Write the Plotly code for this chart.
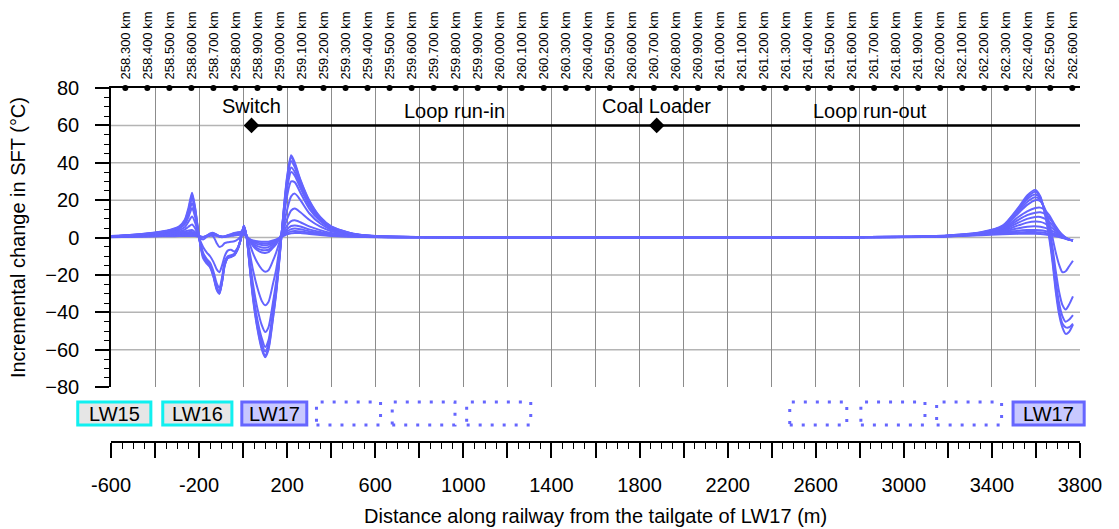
import plotly.graph_objects as go

FONT = "Liberation Sans, Arial, sans-serif"
CURVE_COLOR = "rgb(100,100,255)"

# ---------------- data ----------------
X_MIN, X_MAX = -600, 3800

X_LEFT = [-600, -500, -400, -330, -290, -265, -248, -232, -218, -200,
          -182, -165, -150, -135, -120, -108, -96, -84, -70, -55,
          -40, -25, -12, 3, 15, 30, 45, 65, 85, 100,
          115, 135, 150, 167, 185, 200, 218, 235, 260, 300,
          350, 400, 500, 600]
X_RIGHT = [800, 1200, 1800, 2400, 3000, 3200, 3350, 3450, 3520, 3560, 3597,
           3620, 3642, 3660, 3675, 3690, 3705, 3720, 3735, 3750, 3768]

S00_L = [0.2, 0.4, 0.6, 0.7, 0.8, 0.8, 0.8, 0.8, 0.8, 0.5,
         0.3, 0.6, 1, 1.1, 0.9, 0.6, 0.4, 0.4, 0.6, 0.9,
         1.1, 1.3, 1.5, 1.5, 0.3, -0.8, -1.5, -2, -2.2, -2.3,
         -2.2, -1.6, -1, 0, 0.9, 1.7, 2.3, 2.5, 2.4, 1.9,
         1.4, 0.9, 0.4, 0.2]
S00_R = [0.1, 0.1, 0, 0, 0.2, 0.6, 1.3, 1.8, 2, 2, 2, 1.9, 1.7, 1.4, 1.1, 0.7, 0.3, -0.2, -0.7, -1.2, -1.6]

S01_L = [0.3, 0.5, 0.8, 1, 1.1, 1.2, 1.2, 1.2, 1.1, 0.6,
         0.3, 0.7, 1.2, 1.4, 1.1, 0.7, 0.5, 0.5, 0.8, 1.1,
         1.4, 1.7, 1.9, 2, 0.5, -1, -2, -2.7, -3.1, -3.2,
         -3, -2.2, -1.3, 0, 1.3, 2.4, 3.3, 3.5, 3.3, 2.6,
         1.8, 1.2, 0.6, 0.3]
S01_R = [0.2, 0.1, 0, 0, 0.3, 0.7, 1.5, 2.3, 2.8, 3, 3, 2.8, 2.5, 2.1, 1.7, 1.2, 0.6, 0, -0.6, -1.1, -1.6]

S02_L = [0.3, 0.6, 1, 1.3, 1.5, 1.6, 1.6, 1.6, 1.4, 0.7,
         0.3, 0.8, 1.4, 1.7, 1.2, 0.8, 0.5, 0.6, 0.9, 1.3,
         1.7, 2, 2.2, 2.5, 0.6, -1.2, -2.5, -3.5, -4, -4.1,
         -3.9, -2.8, -1.7, 0, 1.8, 3.3, 4.5, 4.8, 4.4, 3.4,
         2.3, 1.5, 0.7, 0.3]
S02_R = [0.2, 0.1, 0, 0, 0.3, 0.7, 1.7, 2.8, 3.7, 4, 4.1, 3.9, 3.5, 3, 2.4, 1.7, 1, 0.3, -0.5, -1.1, -1.6]

S03_L = [0.4, 0.7, 1.2, 1.6, 1.9, 2.1, 2.2, 2.2, 1.8, 0.8,
         0.3, 0.9, 1.7, 2, 1.4, 0.8, 0.5, 0.6, 1, 1.5,
         2, 2.3, 2.5, 3, 0.8, -1.5, -3.2, -4.6, -5.3, -5.4,
         -5.1, -3.6, -2.2, 0, 2.5, 4.6, 6.2, 6.5, 5.9, 4.4,
         3, 1.9, 0.8, 0.3]
S03_R = [0.2, 0.1, 0, 0, 0.3, 0.8, 1.8, 3.2, 5, 5.8, 6, 5.8, 5.2, 4.4, 3.5, 2.5, 1.5, 0.5, -0.4, -1.1, -1.6]

S04_L = [0.4, 0.8, 1.4, 1.9, 2.3, 2.6, 2.9, 3, 2.3, 0.8,
         0.2, 1, 2, 2.3, 1.5, 0.7, 0.4, 0.6, 1.2, 1.7,
         2.3, 2.6, 2.8, 3.5, 1, -1.8, -4, -5.8, -6.7, -6.8,
         -6.5, -4.5, -2.8, 0, 3.5, 6.5, 8.8, 9.2, 8.2, 6,
         4, 2.5, 1, 0.4]
S04_R = [0.2, 0.1, 0, 0, 0.3, 0.8, 1.9, 3.6, 6.5, 8, 8.6, 8.4, 7.5, 6.3, 5, 3.5, 2, 0.8, -0.3, -1, -1.6]

S05_L = [0.5, 0.9, 1.6, 2.2, 2.8, 3.3, 3.8, 4, 3, 0.8,
         0, 1, 2.2, 2.5, 1.5, 0.5, 0.2, 0.5, 1.2, 1.8,
         2.5, 2.8, 3, 4, 1, -2, -4.5, -6.8, -8, -8.2,
         -7.8, -5.5, -3.5, 0, 5, 10, 14.5, 15.5, 13.5, 9.5,
         5.8, 3.4, 1.3, 0.5]
S05_R = [0.2, 0.1, 0, 0, 0.3, 0.9, 2, 4, 8, 10, 11, 11, 10, 8.5, 6.5, 4.5, 2.6, 1, -0.2, -1, -1.6]

S06_L = [0.5, 1, 1.8, 2.6, 3.3, 4.3, 5.8, 7, 5, 0.5,
         -1, 0.5, 1.5, 0.5, -3, -5, -4.5, -3, -2.5, -2.3,
         -2, -1, 0.5, 5, 1, -3.5, -8.5, -13.5, -17, -18.3,
         -17.5, -12.5, -8, -1.5, 7, 15, 22, 23.5, 20, 13,
         7.5, 4.2, 1.5, 0.5]
S06_R = [0.2, 0.1, 0, 0, 0.3, 0.9, 2.2, 4.4, 9.5, 12, 13.3, 13.5, 12.5, 10.5, 8, 5.5, 3.2, 1.3, 0, -1, -1.6]

S07_L = [0.6, 1.1, 2, 3, 4, 5.5, 8.5, 11.3, 8, 0,
         -5, -8, -10, -13, -17, -18.5, -15, -10, -7, -6.5,
         -7.5, -5.5, -1.2, 5.5, 1, -8, -17.5, -27, -34, -36.2,
         -34.5, -25, -17, -4, 11, 22.5, 30, 29.5, 24, 15.5,
         8.8, 4.8, 1.7, 0.6]
S07_R = [0.3, 0.1, 0, 0, 0.4, 0.9, 2.3, 4.8, 11, 14, 15.8, 16, 14.5, 12, 9, 6, 3.5, 1.5, 0, -1, -1.6]

S08_L = [0.7, 1.2, 2.2, 3.4, 4.8, 7, 11, 15.8, 11, 0,
         -8, -11.5, -13.5, -18, -24.5, -27, -21.5, -13, -10, -9.4,
         -8.7, -5.8, -1.3, 5.8, 1, -12, -25, -38, -47, -50.5,
         -48, -35, -23.5, -6, 13, 26.5, 35, 33, 26.5, 17,
         9.5, 5.2, 1.8, 0.7]
S08_R = [0.3, 0.1, 0, 0, 0.4, 1, 2.4, 5.2, 13, 17.5, 20, 19.5, 15, 8, 0, -8, -14.5, -18.5, -18, -15.5, -12.4]

S09_L = [0.7, 1.3, 2.4, 3.7, 5.2, 8, 12.5, 18.5, 13, 0,
         -9, -12.5, -14.5, -19.5, -26.5, -29, -23, -14, -10.5, -9.8,
         -9, -6, -1.5, 6, 1, -14, -29.5, -44, -54, -58.5,
         -55, -40, -27, -7.5, 14, 28.5, 37.5, 35, 28, 18,
         10, 5.4, 1.8, 0.7]
S09_R = [0.3, 0.1, 0, 0, 0.4, 1, 2.5, 5.6, 14, 19, 21.5, 20, 14, 5, -5, -18, -29, -36, -38.5, -36, -31.5]

S10_L = [0.7, 1.4, 2.5, 3.9, 5.5, 8.5, 14, 21, 14.5, 0,
         -9.5, -13, -15, -20, -27, -29.5, -23.5, -14.5, -10.8, -10,
         -9.2, -6.2, -1.5, 6.2, 1, -15, -31, -46, -56.5, -61,
         -57, -41.5, -28, -8, 15, 30.5, 41, 37.5, 29.5, 19,
         10.5, 5.6, 1.9, 0.7]
S10_R = [0.3, 0.1, 0, 0, 0.4, 1, 2.6, 6, 14.8, 20.5, 23, 21, 13, 3, -8, -23, -35, -42, -45, -44, -41.5]

S11_L = [0.8, 1.5, 2.6, 4, 5.8, 9, 15, 23, 15.5, 0,
         -10, -13.5, -15.5, -20.5, -27.5, -30, -24, -15, -11, -10.2,
         -9.3, -6.3, -1.5, 6.3, 1, -15.5, -32, -48, -59, -63,
         -59, -43, -29, -8.5, 15.5, 32, 43, 39, 30.5, 19.5,
         10.8, 5.8, 2, 0.8]
S11_R = [0.3, 0.1, 0, 0, 0.4, 1.1, 2.7, 6.2, 15.5, 21.5, 24.5, 21.5, 12.5, 1.5, -11, -27, -39, -46, -48, -48, -46]

S12_L = [0.8, 1.5, 2.7, 4.2, 6, 9.5, 16, 24, 16, 0,
         -11, -14, -16, -21, -28, -30, -24, -15, -11, -10.4,
         -9.5, -6.5, -1.5, 6.5, 1, -16, -33, -49, -60, -64,
         -60, -44, -30, -9, 16, 33, 44, 40, 31, 20,
         11, 6, 2, 0.8]
S12_R = [0.3, 0.1, 0, 0, 0.4, 1.1, 2.8, 6.5, 16, 22.5, 25.5, 22, 12, 0, -13, -29, -41, -48, -51.5, -50.5, -46.5]

CURVES = [(S00_L, S00_R), (S01_L, S01_R), (S02_L, S02_R), (S03_L, S03_R),
          (S04_L, S04_R), (S05_L, S05_R), (S06_L, S06_R), (S07_L, S07_R),
          (S08_L, S08_R), (S09_L, S09_R), (S10_L, S10_R), (S11_L, S11_R),
          (S12_L, S12_R)]

# railway chainage (km) and the distance origin (tailgate of LW17)
KM_CHAINAGE = [258.3, 258.4, 258.5, 258.6, 258.7, 258.8, 258.9, 259.0, 259.1, 259.2,
               259.3, 259.4, 259.5, 259.6, 259.7, 259.8, 259.9, 260.0, 260.1, 260.2,
               260.3, 260.4, 260.5, 260.6, 260.7, 260.8, 260.9, 261.0, 261.1, 261.2,
               261.3, 261.4, 261.5, 261.6, 261.7, 261.8, 261.9, 262.0, 262.1, 262.2,
               262.3, 262.4, 262.5, 262.6]
KM_ORIGIN = 258.835

LANDMARK_DIST = [38, 1878, 3815]
LANDMARK_NAME = ["Switch", "Coal Loader", "Switch"]
SECTION_NAME = ["Loop run-in", "Loop run-out"]

PANEL_NAME = ["LW15", "LW16", "LW17", "", "", "", "", "", "", "LW17"]
PANEL_START = [-751, -365, -6, 333, 677, 1015, 2482, 2805, 3149, 3496]
PANEL_END = [-419, -51, 289, 624, 962, 1306, 2741, 3096, 3444, 3819]
PANEL_KIND = ["old", "old", "current", "future", "future", "future",
              "future", "future", "future", "current"]

BOTTOM_TICKS = [-600, -400, -200, 0, 200, 400, 600, 800, 1000, 1200, 1400, 1600, 1800,
                2000, 2200, 2400, 2600, 2800, 3000, 3200, 3400, 3600, 3800]
BOTTOM_LABELS = ["-600", "", "-200", "", "200", "", "600", "", "1000", "", "1400", "",
                 "1800", "", "2200", "", "2600", "", "3000", "", "3400", "", "3800"]
Y_TICKS = [-80, -60, -40, -20, 0, 20, 40, 60, 80]
Y_GRID = [-60, -40, -20, 0, 20, 40, 60]
X_TITLE = "Distance along railway from the tailgate of LW17 (m)"
Y_TITLE = "Incremental change in SFT (°C)"

# ---------------- figure ----------------
fig = go.Figure()

for left, right in CURVES:
    fig.add_trace(go.Scatter(
        x=X_LEFT + X_RIGHT, y=left + right, mode="lines",
        line=dict(color=CURVE_COLOR, width=2, shape="spline", smoothing=0.7),
        hoverinfo="skip", showlegend=False))

# landmark line with diamonds
fig.add_trace(go.Scatter(
    x=LANDMARK_DIST, y=[60] * len(LANDMARK_DIST), mode="lines+markers",
    line=dict(color="black", width=2.5),
    marker=dict(symbol="diamond", size=12, color="black"),
    cliponaxis=False, hoverinfo="skip", showlegend=False))

# km markers on top axis
km_dist = [round((k - KM_ORIGIN) * 1000, 1) for k in KM_CHAINAGE]
km_text = ["%.3f km" % k for k in KM_CHAINAGE]
fig.add_trace(go.Scatter(
    x=km_dist, y=[80] * len(km_dist), mode="markers", xaxis="x3",
    marker=dict(size=6, color="black"), cliponaxis=False,
    hoverinfo="skip", showlegend=False))

# dummy trace for bottom axis
fig.add_trace(go.Scatter(x=[X_MIN, X_MAX], y=[0, 0], xaxis="x2", mode="markers",
                         marker=dict(opacity=0), hoverinfo="skip", showlegend=False))

annotations = []
for d, name in zip(LANDMARK_DIST, LANDMARK_NAME):
    annotations.append(dict(x=d, y=60, xref="x", yref="y", text=name, showarrow=False,
                            xanchor="center", yanchor="bottom", yshift=6,
                            font=dict(family=FONT, size=20, color="black")))
for i, name in enumerate(SECTION_NAME):
    mid = (LANDMARK_DIST[i] + LANDMARK_DIST[i + 1]) / 2
    annotations.append(dict(x=mid, y=60, xref="x", yref="y", text=name, showarrow=False,
                            xanchor="center", yanchor="bottom", yshift=1,
                            font=dict(family=FONT, size=20, color="black")))

# bottom axis title
annotations.append(dict(x=0.5, y=-0.21, xref="paper", yref="paper", text=X_TITLE,
                        showarrow=False, xanchor="center", yanchor="middle",
                        font=dict(family=FONT, size=20, color="black")))

shapes = []
for gy in Y_GRID:
    shapes.append(dict(type="line", xref="paper", yref="y", x0=0, x1=1, y0=gy, y1=gy,
                       line=dict(color="#b4b4b4", width=1.5), layer="below"))


def to_paper(v):
    return (v - X_MIN) / (X_MAX - X_MIN)


BOX_Y0, BOX_Y1 = 0.048, 0.113
for name, s, e, kind in zip(PANEL_NAME, PANEL_START, PANEL_END, PANEL_KIND):
    if kind == "old":
        line = dict(color="#11f0f0", width=3)
        fill = "#e6e6e6"
    elif kind == "current":
        line = dict(color="#6666ff", width=3)
        fill = "#c8c8ff"
    else:
        line = dict(color="#6666ff", width=3, dash="3px,9px")
        fill = "rgba(0,0,0,0)"
    shapes.append(dict(type="rect", xref="paper", yref="paper",
                       x0=to_paper(s), x1=to_paper(e), y0=BOX_Y0, y1=BOX_Y1,
                       line=line, fillcolor=fill, layer="above"))
    if name:
        annotations.append(dict(x=to_paper((s + e) / 2), y=(BOX_Y0 + BOX_Y1) / 2,
                                xref="paper", yref="paper", text=name, showarrow=False,
                                xanchor="center", yanchor="middle",
                                font=dict(family=FONT, size=20, color="black")))

fig.update_layout(
    width=1119, height=529,
    margin=dict(l=111, r=39, t=88, b=87, autoexpand=False),
    paper_bgcolor="white", plot_bgcolor="white",
    showlegend=False,
    font=dict(family=FONT, color="black"),
    xaxis=dict(range=[X_MIN, X_MAX], domain=[0, 1], showgrid=True, tick0=-600, dtick=200,
               gridcolor="#8c8c8c", gridwidth=1, showticklabels=False, ticks="",
               zeroline=False, showline=False, automargin=False),
    xaxis2=dict(range=[X_MIN, X_MAX], overlaying="x", anchor="free", position=0,
                side="bottom", tickmode="array", tickvals=BOTTOM_TICKS, ticktext=BOTTOM_LABELS,
                ticks="outside", ticklen=15, tickwidth=1.5, tickcolor="black",
                showline=True, linecolor="black", linewidth=1.5, showgrid=False, zeroline=False,
                automargin=False,
                minor=dict(tickmode="linear", tick0=-600, dtick=50, ticks="outside", ticklen=6,
                           tickwidth=1, tickcolor="black", showgrid=False),
                tickfont=dict(family=FONT, size=20, color="black"), ticklabelstandoff=10),
    xaxis3=dict(range=[X_MIN, X_MAX], overlaying="x", anchor="y", side="top",
                tickmode="array", tickvals=km_dist, ticktext=km_text, tickangle=-90,
                ticks="", showline=True, linecolor="black", linewidth=2, automargin=False,
                showgrid=False, zeroline=False, ticklabelstandoff=4,
                tickfont=dict(family=FONT, size=13, color="black")),
    yaxis=dict(range=[-80, 80], domain=[0.155, 1], tickmode="array", tickvals=Y_TICKS,
               ticks="outside", ticklen=14, tickwidth=1.5, tickcolor="black",
               showline=True, linecolor="black", linewidth=1.5, showgrid=False, zeroline=False,
               automargin=False,
               minor=dict(tickmode="linear", tick0=-80, dtick=5, ticks="outside", ticklen=5,
                          tickwidth=1, tickcolor="black", showgrid=False),
               tickfont=dict(family=FONT, size=20, color="black"), ticklabelstandoff=12,
               title=dict(text=Y_TITLE, font=dict(family=FONT, size=20, color="black"), standoff=14)),
    annotations=annotations,
    shapes=shapes,
)

fig.write_html("out.html",
               config={"displayModeBar": False},
               post_script="document.body.style.margin='0';document.body.style.overflow='hidden';")
